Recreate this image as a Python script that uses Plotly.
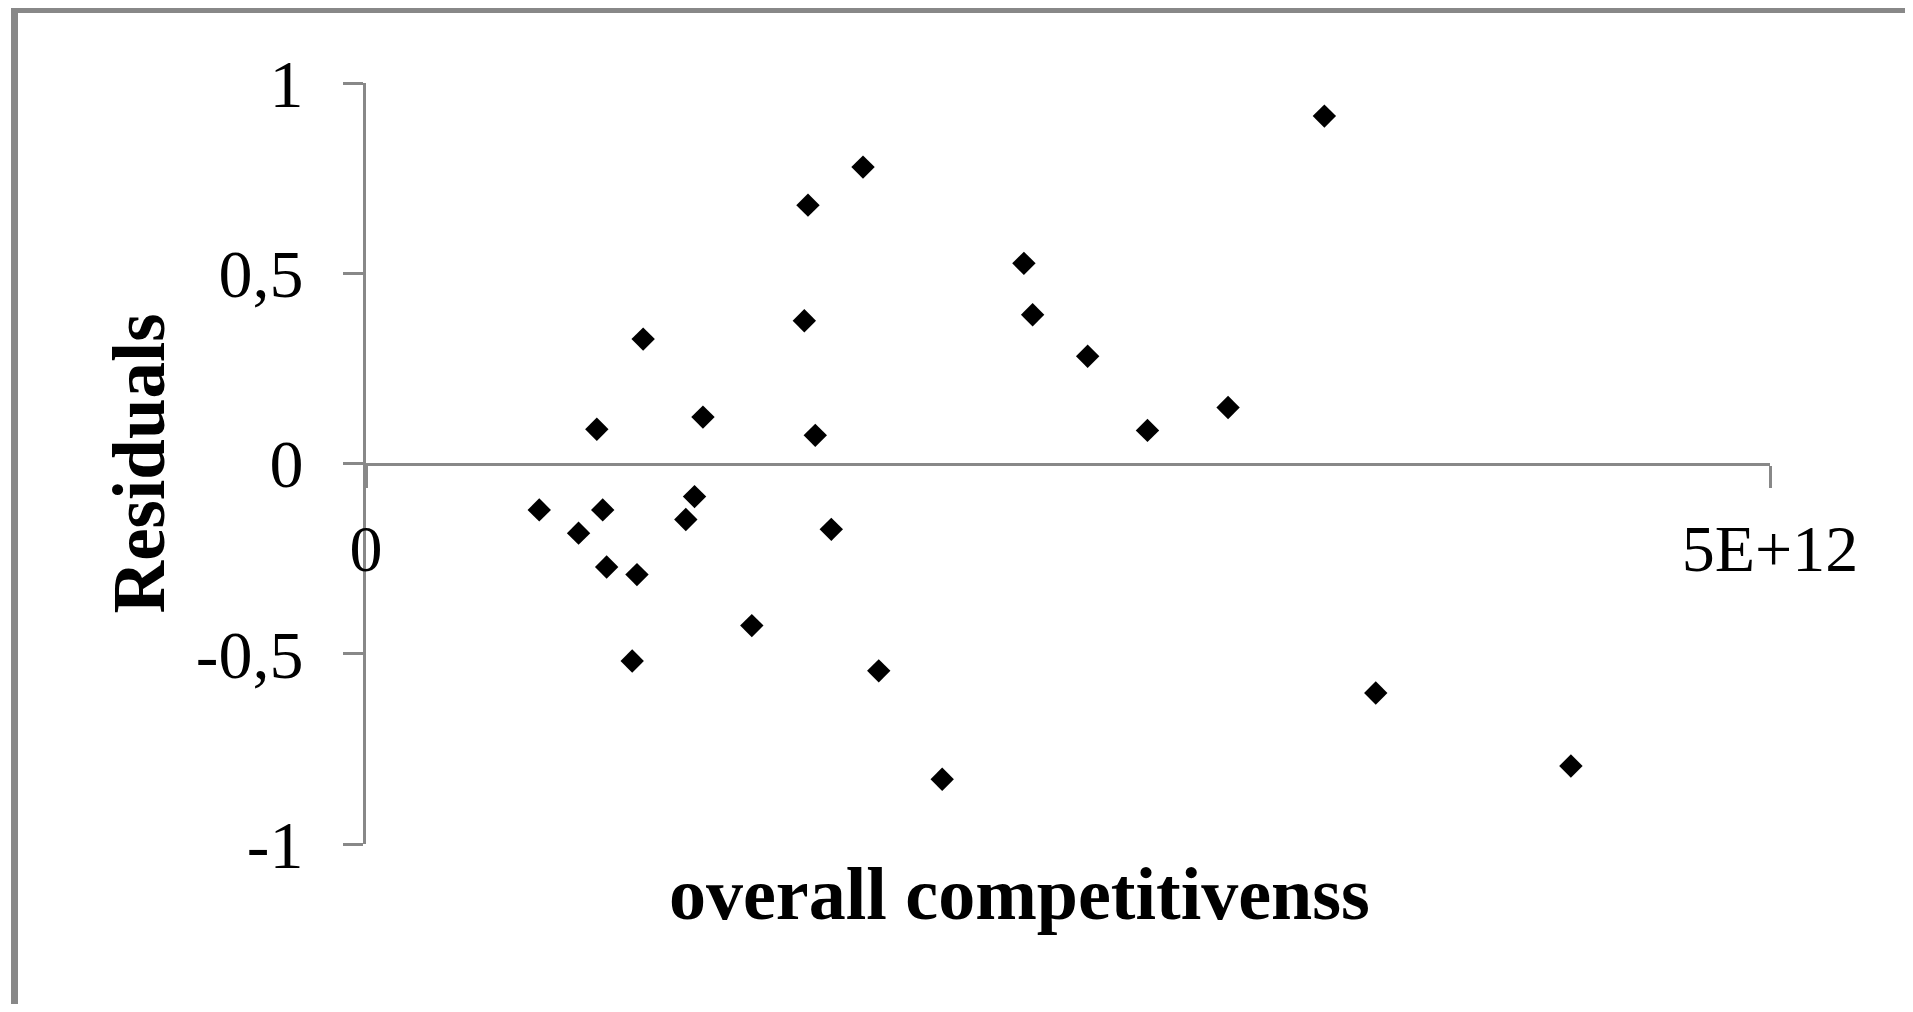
import plotly.graph_objects as go

# data (overall competitiveness, residual)
competitiveness = [0.617e12, 0.757e12, 0.822e12, 0.843e12, 0.857e12, 0.965e12, 0.948e12,
                   0.987e12, 1.139e12, 1.170e12, 1.200e12, 1.374e12, 1.561e12, 1.574e12,
                   1.600e12, 1.657e12, 1.770e12, 1.826e12, 2.052e12, 2.343e12, 2.374e12,
                   2.570e12, 2.783e12, 3.070e12, 3.413e12, 3.596e12, 4.291e12]
residuals = [-0.122, -0.183, 0.090, -0.122, -0.272, -0.292, -0.519,
             0.327, -0.147, -0.087, 0.122, -0.426, 0.375, 0.679,
             0.074, -0.173, 0.779, -0.545, -0.830, 0.526, 0.391,
             0.282, 0.087, 0.147, 0.913, -0.603, -0.795]

x_ticks = [0, 5e12]
x_tick_labels = ["0", "5E+12"]
y_ticks = [-1, -0.5, 0, 0.5, 1]
y_tick_labels = ["-1", "-0,5", "0", "0,5", "1"]

x_title = "overall competitivenss"
y_title = "Residuals"

AX = "#888888"
FONT = "Liberation Serif"

OFF = 8  # page body margin
W, H = 1913 - 2 * OFF, 1012 - 2 * OFF
# target screen positions (full-size reference pixels) converted to figure pixels
ML = 366 - OFF
MT = 83 - OFF
MR = W - (1770 - OFF)
MB = H - (844 - OFF)
pw, ph = W - ML - MR, H - MT - MB

def px_x(p):
    return (p - OFF - ML) / pw

def px_y(p):
    return (MT + ph - (p - OFF)) / ph

fig = go.Figure()
fig.add_trace(go.Scatter(
    x=competitiveness, y=residuals, mode="markers",
    marker=dict(symbol="diamond", size=18, color="black", line=dict(width=0)),
    showlegend=False, cliponaxis=False,
))

fig.update_layout(
    width=W, height=H,
    margin=dict(l=ML, r=MR, t=MT, b=MB),
    paper_bgcolor="white", plot_bgcolor="white",
    font=dict(family=FONT, color="black"),
    showlegend=False,
    xaxis=dict(
        range=[0, 5e12], anchor="free", position=0.5,
        showgrid=False, zeroline=False,
        showline=True, linecolor=AX, linewidth=3,
        ticks="outside", ticklen=22, tickwidth=3, tickcolor=AX,
        tickvals=x_ticks, ticktext=x_tick_labels,
        tickfont=dict(family=FONT, size=66, color="black"),
        ticklabelstandoff=4,
    ),
    yaxis=dict(
        range=[-1, 1], showgrid=False, zeroline=False,
        showline=True, linecolor=AX, linewidth=3,
        ticks="outside", ticklen=20, tickwidth=3, tickcolor=AX,
        tickvals=y_ticks, ticktext=y_tick_labels,
        tickfont=dict(family=FONT, size=68, color="black"),
        ticklabelstandoff=26,
    ),
    annotations=[
        dict(text="<b>%s</b>" % x_title, xref="paper", yref="paper",
             x=px_x(1019), y=px_y(894), xanchor="center", yanchor="middle",
             showarrow=False, font=dict(family=FONT, size=74, color="black")),
        dict(text="<b>%s</b>" % y_title, xref="paper", yref="paper",
             x=px_x(139), y=0.5, xanchor="center", yanchor="middle", textangle=-90,
             showarrow=False, font=dict(family=FONT, size=73, color="black")),
    ],
    shapes=[
        dict(type="line", xref="paper", yref="paper",
             x0=px_x(14.5), x1=px_x(14.5), y0=px_y(7), y1=px_y(1030),
             line=dict(color=AX, width=7)),
        dict(type="line", xref="paper", yref="paper",
             x0=px_x(11), x1=px_x(1930), y0=px_y(10), y1=px_y(10),
             line=dict(color=AX, width=6)),
    ],
)

fig.write_html("out.html")
